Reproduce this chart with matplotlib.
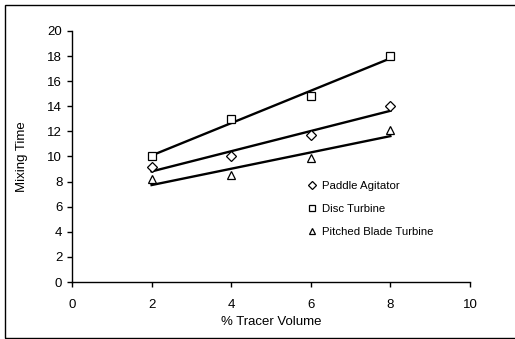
import numpy as np
import matplotlib
matplotlib.use("Agg")
import matplotlib.pyplot as plt
from matplotlib.patches import Rectangle

plt.rcParams['font.family'] = ['Liberation Sans', 'DejaVu Sans']

# data
tracer = [2, 4, 6, 8]
paddle = [9.2, 10.0, 11.7, 14.0]
disc = [10.0, 13.0, 14.8, 18.0]
pitched = [8.2, 8.55, 9.85, 12.1]

series = [
    ("Paddle Agitator", paddle, "D", 5.0, 4.0),
    ("Disc Turbine", disc, "s", 6.0, 4.5),
    ("Pitched Blade Turbine", pitched, "^", 6.0, 4.5),
]

fig = plt.figure(figsize=(5.15, 3.39), dpi=100)
ax = fig.add_axes([0.1398, 0.1681, 0.7728, 0.7405])

x = np.array(tracer)
handles = []
for name, vals, mk, ms, lms in series:
    ax.plot(x, vals, linestyle="none", marker=mk, markersize=ms,
            markerfacecolor="white", markeredgecolor="black",
            markeredgewidth=0.9, zorder=3)
    k, b = np.polyfit(x, vals, 1)
    ax.plot(x, k * x + b, color="black", linewidth=1.7, zorder=2)
    h, = ax.plot([], [], linestyle="none", marker=mk, markersize=lms,
                 markerfacecolor="white", markeredgecolor="black",
                 markeredgewidth=0.9, label=name)
    handles.append(h)

ax.set_xlim(0, 10)
ax.set_ylim(0, 20)
ax.set_xticks(range(0, 11, 2))
ax.set_yticks(range(0, 21, 2))
ax.spines['top'].set_visible(False)
ax.spines['right'].set_visible(False)
for s in ('left', 'bottom'):
    ax.spines[s].set_linewidth(1.0)
ax.tick_params(direction="out", length=3.5, width=1.0, labelsize=9.5, colors="black")
ax.tick_params(axis='x', pad=9)
ax.set_xlabel("% Tracer Volume", fontsize=9.5, labelpad=3)
ax.set_ylabel("Mixing Time", fontsize=9.5, labelpad=14)

fig.legend(handles=handles, loc="upper left", bbox_to_anchor=(0.6, 0.465),
           frameon=False, fontsize=8.2, handlelength=0.6, handletextpad=0.55,
           labelspacing=1.12, borderaxespad=0, borderpad=0)

fig.patches.append(Rectangle((5 / 515, 1 / 339), 1.0, 333 / 339,
                             transform=fig.transFigure, fill=False,
                             edgecolor="black", linewidth=1.0))

fig.savefig("out.png", dpi=100)
